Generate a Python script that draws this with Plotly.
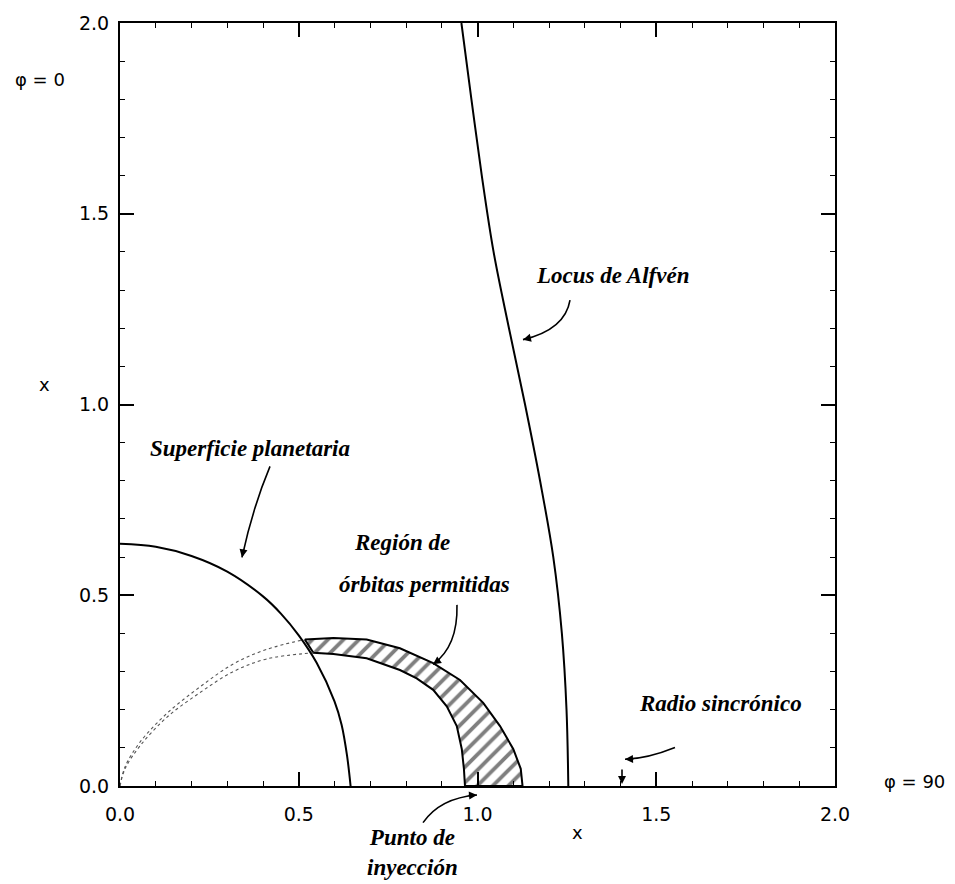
import plotly.graph_objects as go

# ---- data (data units) ----
planet_x = [0.0, 0.1, 0.2, 0.3, 0.4, 0.45, 0.5, 0.55, 0.6, 0.62, 0.635, 0.645]
planet_y = [0.635, 0.627, 0.603, 0.562, 0.497, 0.452, 0.395, 0.323, 0.222, 0.16, 0.08, 0.0]

outer_x = [0.517, 0.597, 0.69, 0.783, 0.876, 0.951, 1.016, 1.063, 1.1, 1.121, 1.126]
outer_y = [0.384, 0.388, 0.384, 0.361, 0.322, 0.278, 0.218, 0.157, 0.097, 0.045, 0.0]

inner_x = [0.541, 0.597, 0.69, 0.783, 0.83, 0.876, 0.914, 0.942, 0.956, 0.962, 0.965]
inner_y = [0.349, 0.346, 0.335, 0.304, 0.282, 0.252, 0.209, 0.157, 0.097, 0.045, 0.0]

dot_upper_x = [0.0, 0.014, 0.056, 0.131, 0.224, 0.317, 0.41, 0.517]
dot_upper_y = [0.0, 0.05, 0.115, 0.19, 0.26, 0.32, 0.358, 0.384]
dot_lower_x = [0.0, 0.014, 0.056, 0.131, 0.224, 0.317, 0.41, 0.541]
dot_lower_y = [0.0, 0.045, 0.105, 0.18, 0.245, 0.3, 0.333, 0.349]

alfven_x = [0.955, 0.983, 1.012, 1.045, 1.088, 1.133, 1.175, 1.212, 1.236, 1.249, 1.254]
alfven_y = [2.0, 1.8, 1.6, 1.4, 1.2, 1.0, 0.8, 0.6, 0.4, 0.2, 0.0]

tick_vals = [0.0, 0.5, 1.0, 1.5, 2.0]
tick_text = ["0.0", "0.5", "1.0", "1.5", "2.0"]

# ---- figure ----
fig = go.Figure()

band_x = outer_x + inner_x[::-1] + [outer_x[0]]
band_y = outer_y + inner_y[::-1] + [outer_y[0]]
fig.add_trace(go.Scatter(
    x=band_x, y=band_y, mode="lines", fill="toself",
    fillcolor="white",
    fillpattern=dict(shape="/", size=11, solidity=0.35, fgcolor="black", bgcolor="white"),
    line=dict(color="black", width=2), hoverinfo="skip"))

for xs, ys in [(dot_upper_x, dot_upper_y), (dot_lower_x, dot_lower_y)]:
    fig.add_trace(go.Scatter(x=xs, y=ys, mode="lines", line_shape="spline",
                             line=dict(color="#555", width=1.1, dash="dot")))

fig.add_trace(go.Scatter(x=planet_x, y=planet_y, mode="lines", line_shape="spline",
                         line=dict(color="black", width=2)))
fig.add_trace(go.Scatter(x=alfven_x, y=alfven_y, mode="lines", line_shape="spline",
                         line=dict(color="black", width=2)))

axis_common = dict(
    range=[0, 2], tickvals=tick_vals, ticktext=tick_text,
    ticks="inside", ticklen=14, tickwidth=1.5, tickcolor="black",
    showline=True, linewidth=2, linecolor="black", mirror="allticks",
    minor=dict(ticks="inside", dtick=0.1, ticklen=5, tickwidth=1.2, tickcolor="black"),
    showgrid=False, zeroline=False,
    tickfont=dict(family="DejaVu Sans", size=19, color="black"),
)
fig.update_xaxes(**axis_common, ticklabelstandoff=10)
fig.update_yaxes(**axis_common, ticklabelstandoff=5)

serif = dict(family="Liberation Serif", size=23, color="black")
sans = dict(family="DejaVu Sans", size=18, color="black")

texts = [
    ("<b><i>Locus de Alfvén</i></b>", 0.6895, 0.6693, serif, "center"),
    ("<b><i>Superficie planetaria</i></b>", 0.1818, 0.4423, serif, "center"),
    ("<b><i>Región de</i></b>", 0.3944, 0.3191, serif, "center"),
    ("<b><i>órbitas permitidas</i></b>", 0.4252, 0.2646, serif, "center"),
    ("<b><i>Radio sincrónico</i></b>", 0.8392, 0.1077, serif, "center"),
    ("<b><i>Punto de<br>inyección</i></b>", 0.4084, -0.0869, serif, "center"),
    ("x", 0.6392, -0.061, sans, "center"),
    ("x", -0.1049, 0.5266, sans, "center"),
    ("φ = 0", -0.1119, 0.9261, sans, "center"),
    ("φ = 90", 1.1566, 0.0065, sans, "right"),
]
annotations = []
for t, x, y, f, xa in texts:
    annotations.append(dict(text=t, x=x, y=y, xref="paper", yref="paper",
                            showarrow=False, font=f, xanchor=xa, yanchor="middle"))

# curved leader lines (paper coords: start, control, tip) + arrow-head direction
leaders = [
    ((0.6294, 0.6368), (0.6224, 0.5979), (0.5636, 0.5850), (7.8, -1.9)),
    ((0.4713, 0.2374), (0.4727, 0.1829), (0.4378, 0.1595), (8.1, -5.8)),
    ((0.2098, 0.4189), (0.1860, 0.3658), (0.1706, 0.2996), (1.9, -9.8)),
    ((0.7762, 0.0506), (0.7385, 0.0363), (0.7063, 0.0350), (10.0, -0.4)),
    ((0.4238, -0.0480), (0.4476, -0.0156), (0.4993, -0.0117), (-10.0, 0.8)),
]
shapes = []
for p0, c, p2, (ax, ay) in leaders:
    shapes.append(dict(type="path", xref="paper", yref="paper",
                       path=f"M {p0[0]},{p0[1]} Q {c[0]},{c[1]} {p2[0]},{p2[1]}",
                       line=dict(color="black", width=1.6)))
    annotations.append(dict(x=p2[0], y=p2[1], xref="paper", yref="paper", ax=ax, ay=ay,
                            axref="pixel", ayref="pixel", text="", showarrow=True,
                            arrowhead=2, arrowsize=1, arrowwidth=1.6, arrowcolor="black"))
# synchronous radius marker
annotations.append(dict(x=0.7021, y=0.0026, xref="paper", yref="paper", ax=0, ay=-16,
                        text="", showarrow=True, arrowhead=2, arrowsize=1,
                        arrowwidth=1.6, arrowcolor="black"))

fig.update_layout(
    width=955, height=884,
    margin=dict(l=120, r=120, t=15, b=98),
    paper_bgcolor="white", plot_bgcolor="white",
    showlegend=False,
    annotations=annotations, shapes=shapes,
)

fig.write_html(
    "out.html",
    config={"displayModeBar": False},
    post_script="document.body.style.margin='0';"
                "document.documentElement.style.overflow='hidden';"
                "document.body.style.overflow='hidden';",
)
